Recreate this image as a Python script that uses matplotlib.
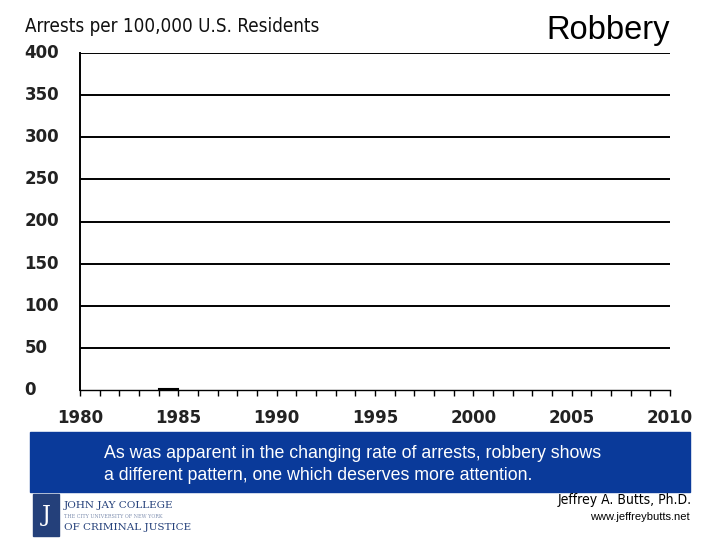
import matplotlib.pyplot as plt
from matplotlib.patches import Rectangle

# Data (only the first visible stretch of the series is drawn in this frame)
years = [1984, 1985]
robbery_rate = [0.6, 0.6]
y_ticks = [0, 50, 100, 150, 200, 250, 300, 350, 400]
x_ticks = [1980, 1985, 1990, 1995, 2000, 2005, 2010]

fig = plt.figure(figsize=(7.2, 5.4), dpi=100)
ax = fig.add_axes([80 / 720, 1 - 390 / 540, 590 / 720, 337 / 540])

ax.plot(years, robbery_rate, color='black', lw=1.5)
ax.set_xlim(1980, 2010)
ax.set_ylim(0, 400)

for v in y_ticks[1:]:
    ax.axhline(v, color='black', lw=1.4, zorder=0)

for s in ['top', 'right']:
    ax.spines[s].set_visible(False)
ax.spines['left'].set_linewidth(1.4)
ax.spines['bottom'].set_linewidth(1.0)

ax.set_yticks(y_ticks)
ax.set_yticklabels([])
ax.tick_params(axis='y', length=0)
for v in y_ticks:
    ax.text(-0.094, v, str(v), transform=ax.get_yaxis_transform(), ha='left', va='center',
            fontsize=12, fontweight='semibold', color='#222222', family='DejaVu Sans')

ax.set_xticks(x_ticks)
ax.set_xticks(range(1980, 2011), minor=True)
ax.tick_params(axis='x', which='both', length=4, width=1, direction='out')
ax.set_xticklabels([str(x) for x in x_ticks], fontsize=12, fontweight='semibold', color='#222222')
ax.tick_params(axis='x', pad=10)

fig.text(25 / 720, 1 - 26 / 540, 'Arrests per 100,000 U.S. Residents', fontsize=13.5,
         ha='left', va='center', color='#111111', family='DejaVu Sans', stretch='condensed')
fig.text(670 / 720, 1 - 30 / 540, 'Robbery', fontsize=23.5, ha='right', va='center',
         family='Liberation Sans')

# Caption box
fig.patches.append(Rectangle((30 / 720, 1 - 492 / 540), 660 / 720, 60 / 540,
                             transform=fig.transFigure, color='#0a3a9a', zorder=0))
fig.text(104 / 720, 1 - 454 / 540, 'As was apparent in the changing rate of arrests, robbery shows',
         color='white', fontsize=12.8, ha='left', va='center', family='Liberation Sans')
fig.text(104 / 720, 1 - 475 / 540, 'a different pattern, one which deserves more attention.',
         color='white', fontsize=12.8, ha='left', va='center', family='Liberation Sans')

# Logo
fig.patches.append(Rectangle((33 / 720, 1 - 536 / 540), 26 / 720, 42 / 540,
                             transform=fig.transFigure, color='#24407a', zorder=0))
fig.text(46 / 720, 1 - 515 / 540, 'J', color='white', fontsize=16, ha='center', va='center',
         family='DejaVu Serif')
fig.text(64 / 720, 1 - 506 / 540, 'JOHN JAY COLLEGE', color='#24407a', fontsize=7.5,
         ha='left', va='center', family='DejaVu Serif')
fig.text(64 / 720, 1 - 516 / 540, 'THE CITY UNIVERSITY OF NEW YORK', color='#8090b0', fontsize=3.5,
         ha='left', va='center', family='DejaVu Serif')
fig.text(64 / 720, 1 - 527 / 540, 'OF CRIMINAL JUSTICE', color='#24407a', fontsize=7.5,
         ha='left', va='center', family='DejaVu Serif')

fig.text(692 / 720, 1 - 500 / 540, 'Jeffrey A. Butts, Ph.D.', fontsize=10, ha='right', va='center',
         family='DejaVu Sans', stretch='condensed')
fig.text(690 / 720, 1 - 517 / 540, 'www.jeffreybutts.net', fontsize=8, ha='right', va='center',
         family='Liberation Sans')

plt.savefig('out.png', dpi=100)
